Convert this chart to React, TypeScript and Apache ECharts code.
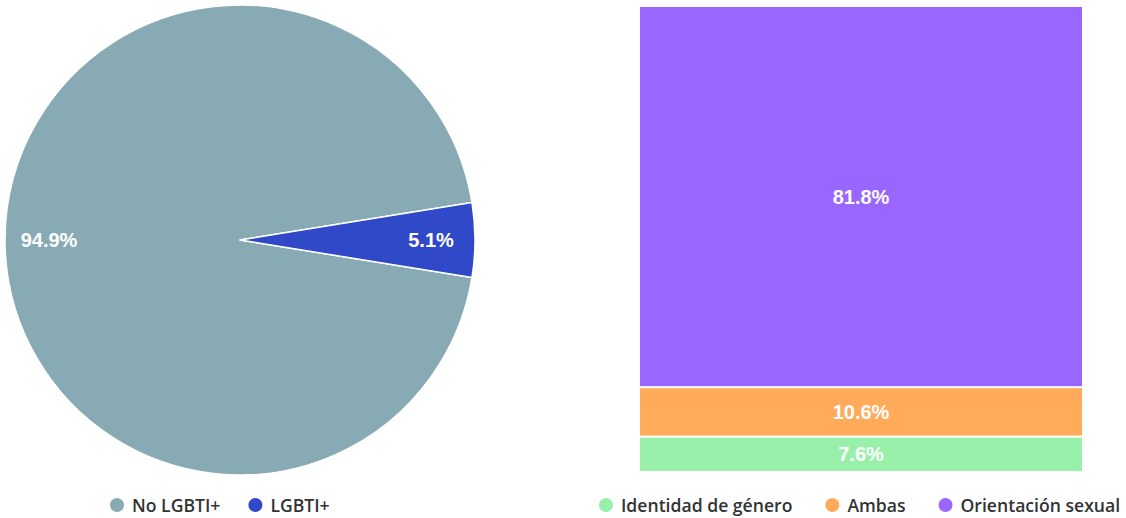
import React, { useEffect, useRef } from "react";
import * as echarts from "echarts";

const pieNames = ["No LGBTI+", "LGBTI+"];
const pieValues = [94.9, 5.1];
const pieColors = ["#88aab5", "#3049c9"];

const barNames = ["Identidad de género", "Ambas", "Orientación sexual"];
const barValues = [7.6, 10.6, 81.8];
const barColors = ["#98f0aa", "#ffab5a", "#9966ff"];
const barCategory = ["Motivo"];

export default function App() {
  const ref = useRef<HTMLDivElement>(null);
  useEffect(() => {
    if (!ref.current) return;
    const chart = echarts.init(ref.current, null, { renderer: "svg" });
    const pieData = pieNames.map((n, i) => ({ name: n, value: pieValues[i], itemStyle: { color: pieColors[i] } }));
    const labelStyle = {
      color: "#ffffff",
      fontFamily: "Liberation Sans, Arial, sans-serif",
      fontWeight: "bold" as const,
      fontSize: 20,
    };
    const legendText = {
      color: "#333333",
      fontFamily: "Open Sans, sans-serif",
      fontWeight: 600 as any,
      fontSize: 17.6,
      lineHeight: 17,
    };
    chart.setOption({
      animation: false,
      legend: [
        {
          data: pieNames,
          left: 108,
          top: 496,
          padding: 0,
          icon: "circle",
          itemWidth: 20,
          itemHeight: 16,
          itemGap: 26,
          textStyle: legendText,
        },
        {
          data: barNames,
          left: 597,
          top: 496,
          padding: 0,
          icon: "circle",
          itemWidth: 20,
          itemHeight: 16,
          itemGap: 31,
          textStyle: legendText,
        },
      ],
      grid: { left: 639, right: 43, top: 6, bottom: 46 },
      xAxis: { type: "category", data: barCategory, show: false },
      yAxis: { type: "value", min: 0, max: 100, show: false },
      series: [
        {
          type: "pie",
          center: [240, 240],
          radius: 235,
          startAngle: 350.82,
          clockwise: true,
          data: pieData,
          label: { show: false },
          labelLine: { show: false },
          itemStyle: { borderColor: "#ffffff", borderWidth: 1.5 },
          silent: true,
        },
        {
          type: "pie",
          center: [240, 240],
          radius: [141, 235],
          startAngle: 350.82,
          clockwise: true,
          data: pieNames.map((n, i) => ({ name: n, value: pieValues[i] })),
          itemStyle: { color: "rgba(0,0,0,0)", borderWidth: 0 },
          label: {
            show: true,
            position: "inside",
            formatter: (p: any) => p.value.toFixed(1) + "%",
            ...labelStyle,
          },
          labelLine: { show: false },
          silent: true,
          legendHoverLink: false,
        },
        ...barNames.map((n, i) => ({
          type: "bar",
          name: n,
          stack: "total",
          data: [barValues[i]],
          barWidth: "100%",
          itemStyle: { color: barColors[i], borderColor: "#ffffff", borderWidth: 1 },
          label: {
            show: true,
            position: "inside",
            formatter: (p: any) => p.value.toFixed(1) + "%",
            ...labelStyle,
          },
        })),
      ],
    });
    return () => chart.dispose();
  }, []);
  return (
    <div
      ref={ref}
      style={{ position: "fixed", left: 0, top: 0, width: 1126, height: 518, background: "#ffffff" }}
    />
  );
}
